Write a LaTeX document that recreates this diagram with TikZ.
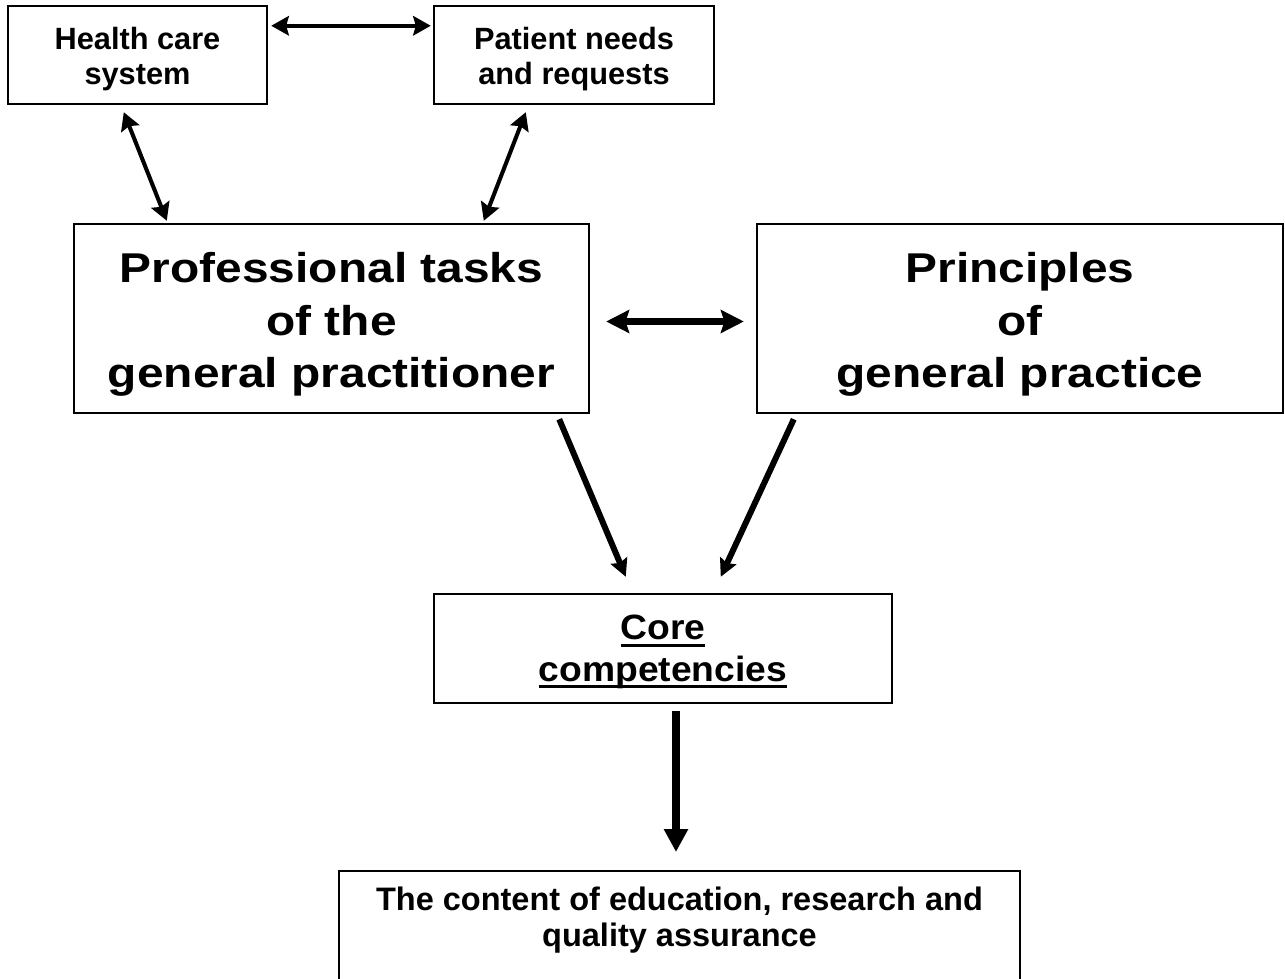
\documentclass[tikz,border=0pt]{standalone}
\usepackage{fontspec}
\setmainfont{Liberation Sans}
\newfontfamily\widesans{Liberation Sans}[FakeStretch=1.15]
\newfontfamily\coresans{Liberation Sans}[FakeStretch=1.06]
\usetikzlibrary{arrows.meta,calc}

\newcommand{\ulword}[1]{\setbox0\hbox{#1}\rlap{\rule[-4pt]{\wd0}{1.8pt}}\box0}
\newcommand{\textlines}[2]{\raisebox{#1}[\height][\depth]{\begin{tabular}{@{}c@{}}#2\end{tabular}}}

\begin{document}
\begin{tikzpicture}[x=0.02cm,y=-0.02cm,
    box/.style={draw,line width=1.4pt,rectangle,inner sep=0pt},
    small/.style={box,font=\bfseries\fontsize{17.5}{19.5}\selectfont},
    big/.style={box,font=\widesans\bfseries\fontsize{23.7}{29.8}\selectfont},
    link/.style={line width=2.3pt,{Stealth[length=10pt,width=11pt,inset=1.5pt]}-{Stealth[length=10pt,width=11pt,inset=1.5pt]}},
    flow/.style={line width=3.4pt,-{Stealth[length=10pt,width=10pt,inset=1.5pt]}}]
    \useasboundingbox (0,0) rectangle (1285,979);
    % boxes
    \node[small,minimum width=259*0.02cm,minimum height=98*0.02cm] (hcs) at (137.5,55) {\textlines{-3pt}{Health care\\system}};
    \node[small,minimum width=280*0.02cm,minimum height=98*0.02cm] (pnr) at (574,55) {\textlines{-3pt}{Patient needs\\and requests}};
    \node[big,minimum width=515*0.02cm,minimum height=189*0.02cm] (tasks) at (331.5,318.5) {\textlines{-3.6pt}{Professional tasks\\of the\\general practitioner}};
    \node[big,minimum width=526*0.02cm,minimum height=189*0.02cm] (princ) at (1020,318.5) {\textlines{-3.6pt}{Principles\\of\\general practice}};
    \node[box,font=\coresans\bfseries\fontsize{20}{23.5}\selectfont,minimum width=458*0.02cm,minimum height=109*0.02cm] (core) at (663,648.5) {\textlines{-2.2pt}{\ulword{Core}\\\ulword{competencies}}};
    \node[box,font=\bfseries\fontsize{18.5}{20.5}\selectfont,anchor=north,minimum width=681*0.02cm,inner ysep=8.2pt,text depth=70pt] (content) at (679.5,870) {\textlines{0pt}{The content of education, research and\\quality assurance}};
    % connectors
    \draw[link] ($(hcs.north east)+(3,21)$) -- ($(pnr.north west)+(-2,21)$);
    \draw[link] ($(hcs.south west)+(117,7)$) -- ($(tasks.north west)+(94,-2)$);
    \draw[link] ($(pnr.south west)+(93,7)$) -- ($(tasks.north west)+(411,-2)$);
    \draw[link,line width=4pt,{Stealth[length=13pt,width=13pt,inset=2pt]}-{Stealth[length=13pt,width=13pt,inset=2pt]}] ($(tasks.east)+(16,3)$) -- ($(princ.west)+(-12,3)$);
    \draw[flow] ($(tasks.south east)+(-31,5)$) -- ($(core.north west)+(193,-16)$);
    \draw[flow] ($(princ.south west)+(38,5)$) -- ($(core.north west)+(288,-16)$);
    \draw[flow,line width=5pt,-{Triangle[length=13pt,width=13pt]}] ($(core.south)+(13,7)$) -- ($(content.north)+(-3.5,-18)$);
\end{tikzpicture}
\end{document}
